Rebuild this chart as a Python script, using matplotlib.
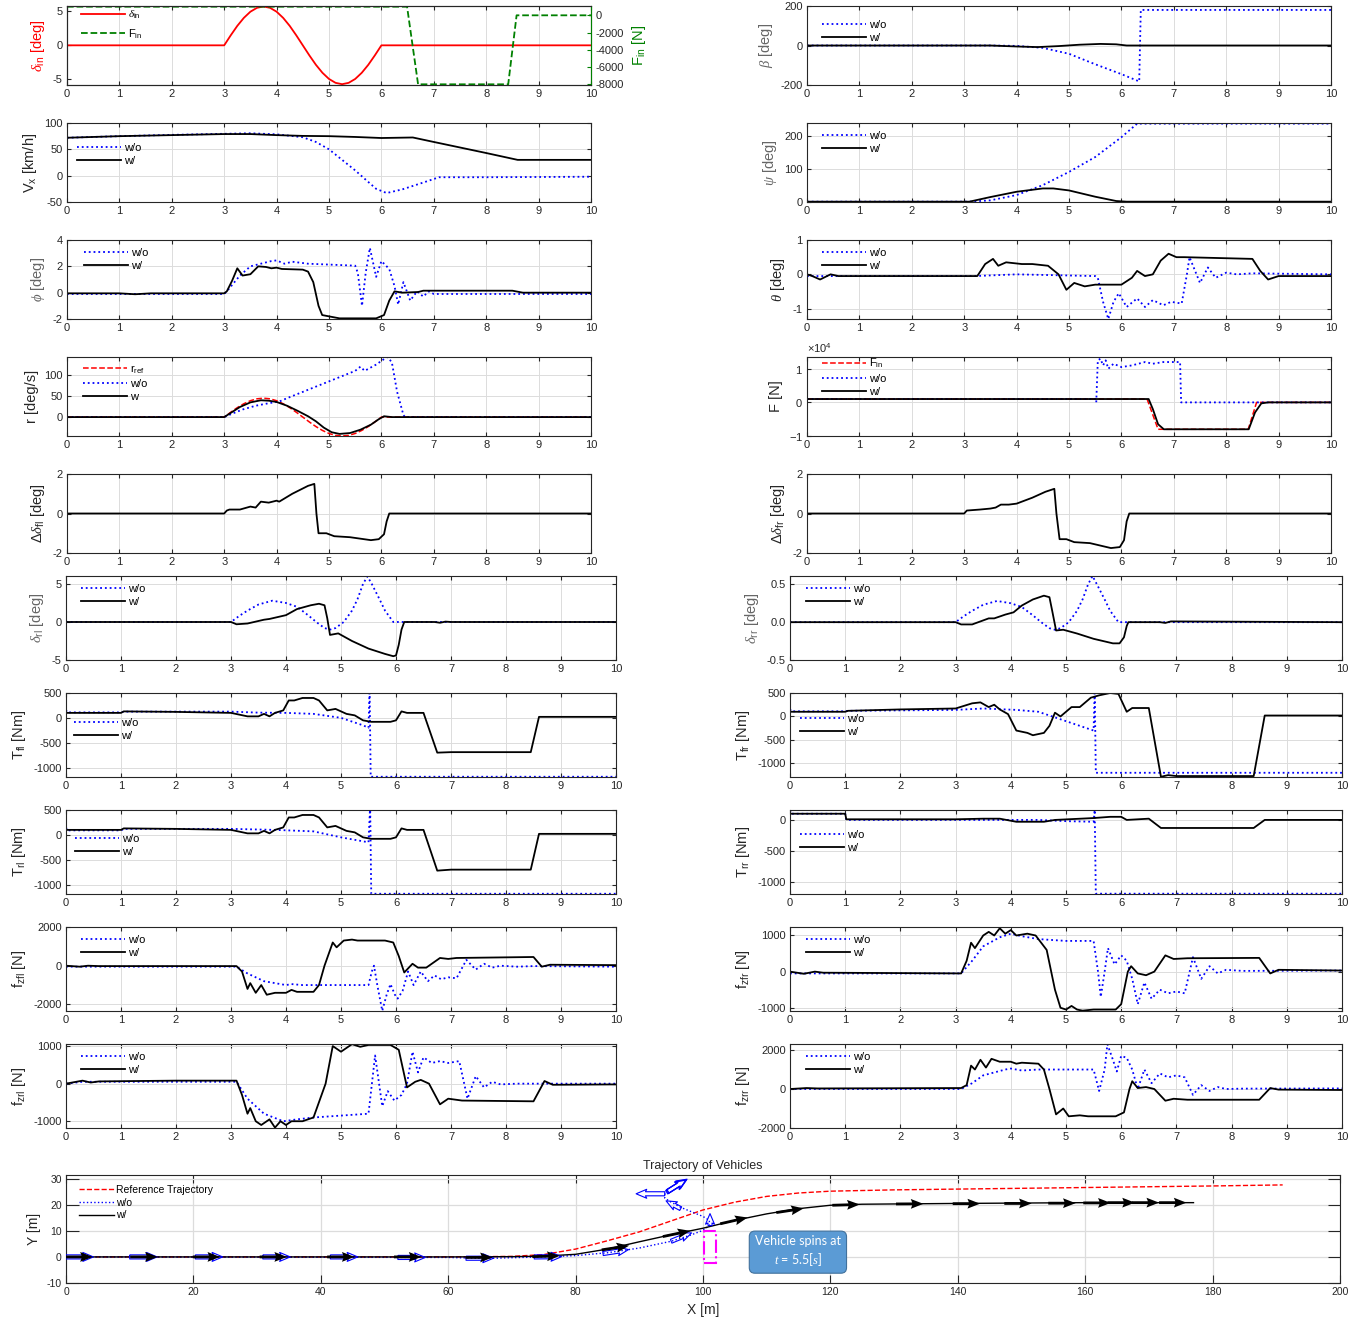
import matplotlib.pyplot as plt
from matplotlib.patches import Rectangle

plt.rcParams['font.family'] = ['Liberation Sans', 'DejaVu Sans']
plt.rcParams['mathtext.fontset'] = 'custom'
plt.rcParams['mathtext.rm'] = 'Liberation Sans'
plt.rcParams['mathtext.it'] = 'Liberation Serif:italic'
plt.rcParams['mathtext.bf'] = 'Liberation Sans:bold'
plt.rcParams['axes.unicode_minus'] = False
plt.rcParams['font.size'] = 8
plt.rcParams['axes.linewidth'] = 0.8
plt.rcParams['axes.edgecolor'] = '#262626'
plt.rcParams['xtick.color'] = '#262626'
plt.rcParams['ytick.color'] = '#262626'
plt.rcParams['axes.labelcolor'] = '#262626'

# ---- time histories, (t [s], value) ----
delta_in = [(0, 0), (3, 0), (3.125, 1.48), (3.25, 2.87), (3.375, 4.05), (3.5, 4.96), (3.625, 5.53),
            (3.75, 5.73), (3.875, 5.53), (4, 4.96), (4.125, 4.05), (4.25, 2.87), (4.375, 1.48),
            (4.5, 0), (4.625, -1.48), (4.75, -2.87), (4.875, -4.05), (5, -4.96), (5.125, -5.53),
            (5.25, -5.73), (5.375, -5.53), (5.5, -4.96), (5.625, -4.05), (5.75, -2.87),
            (5.875, -1.48), (6, 0), (10, 0)]
F_in = [(0, 1000), (6.49, 1000), (6.7, -8000), (8.42, -8000), (8.58, 0), (10, 0)]

beta_wo = [(0, 0), (3.5, 0), (4, -2), (4.5, -12), (5, -42), (5.5, -95), (6, -145), (6.34, -182),
           (6.37, 180), (10, 180)]
beta_w = [(0, 0), (3.5, 0), (4, -5), (4.4, -8), (4.8, -3), (5.2, 4), (5.6, 8), (5.9, 6), (6.1, 0), (10, 0)]

vx_wo = [(0, 72), (1, 75), (2, 77.5), (3, 79.5), (3.5, 80.5), (4, 78.5), (4.5, 73), (4.75, 64),
         (5, 50), (5.25, 30), (5.5, 10), (5.75, -12), (5.9, -25), (6.1, -33), (6.4, -26),
         (6.8, -13), (7.1, -3), (8, -3), (10, -2)]
vx_w = [(0, 72), (1, 75), (2, 77), (3, 79), (3.5, 79), (4, 77), (4.5, 75.5), (5, 75), (5.5, 73.5),
        (6, 71.5), (6.6, 72.5), (7, 64), (8, 43), (8.6, 30), (10, 30)]

psi_wo = [(0, 0), (3.1, 0), (3.5, 4), (4, 20), (4.5, 50), (5, 90), (5.5, 135), (6, 195),
          (6.3, 236), (10, 236)]
psi_w = [(0, 0), (3.1, 0), (3.5, 14), (4, 30), (4.5, 40), (4.7, 40), (5, 34), (5.5, 15),
         (5.9, 2), (6.1, 0), (10, 0)]

phi_wo = [(0, -0.1), (3, -0.1), (3.05, 0.1), (3.3, 1.3), (3.5, 2.0), (3.9, 2.4), (4.0, 2.45),
          (4.15, 2.2), (4.3, 2.35), (4.6, 2.2), (5.5, 2.05), (5.55, 1.5), (5.63, -1.0), (5.7, 1.5),
          (5.78, 3.4), (5.9, 1.2), (6.0, 2.4), (6.15, 1.8), (6.25, 0.5), (6.32, -0.9), (6.42, 0.8),
          (6.55, -0.6), (6.68, 0.1), (6.8, -0.3), (6.9, 0.1), (7.0, -0.1), (10, -0.1)]
phi_w = [(0, -0.05), (1, -0.05), (1.3, -0.12), (1.6, -0.05), (3, -0.05), (3.05, 0.1), (3.15, 0.9),
         (3.25, 1.85), (3.35, 1.3), (3.5, 1.4), (3.65, 2.0), (3.8, 1.95), (3.9, 1.85), (4.0, 1.9),
         (4.1, 1.8), (4.5, 1.75), (4.6, 1.6), (4.7, 0.8), (4.8, -1.0), (4.87, -1.7), (5.0, -1.8),
         (5.2, -1.95), (5.9, -1.95), (6.05, -1.7), (6.15, -0.6), (6.25, 0.1), (6.4, 0), (6.7, 0.05),
         (6.8, 0.15), (7, 0.15), (8.5, 0.15), (8.7, 0), (10, 0)]

theta_wo = [(0, -0.05), (3.2, -0.05), (4, 0), (5.5, -0.05), (5.55, -0.1), (5.65, -0.8), (5.75, -1.3),
            (5.85, -0.8), (5.95, -0.55), (6.1, -0.95), (6.3, -0.7), (6.45, -0.95), (6.6, -0.75),
            (6.8, -0.9), (6.95, -0.8), (7.15, -0.85), (7.25, 0), (7.3, 0.5), (7.5, -0.25),
            (7.65, 0.2), (7.8, -0.1), (8, 0.05), (8.2, 0), (8.5, 0.03), (10, 0.0)]
theta_w = [(0, 0), (0.1, -0.05), (0.25, -0.15), (0.45, 0), (0.6, -0.05), (3.25, -0.05), (3.4, 0.3),
           (3.55, 0.45), (3.65, 0.25), (3.8, 0.35), (4.1, 0.3), (4.3, 0.3), (4.6, 0.25), (4.8, 0.0),
           (4.95, -0.45), (5.1, -0.25), (5.3, -0.35), (5.5, -0.3), (6.0, -0.3), (6.2, -0.1),
           (6.3, 0.1), (6.45, -0.05), (6.6, 0), (6.75, 0.4), (6.9, 0.6), (7.05, 0.5), (7.2, 0.5),
           (8.5, 0.45), (8.65, 0.1), (8.8, -0.15), (9, -0.05), (10, -0.05)]

r_ref = [(0, 0), (3, 0), (3.125, 11.6), (3.25, 22.5), (3.375, 31.8), (3.5, 39), (3.625, 43.5),
         (3.75, 45), (3.875, 43.5), (4, 39), (4.125, 31.8), (4.25, 22.5), (4.375, 11.6), (4.5, 0),
         (4.625, -11.6), (4.75, -22.5), (4.875, -31.8), (5, -39), (5.125, -43.5), (5.25, -45),
         (5.375, -43.5), (5.5, -39), (5.625, -31.8), (5.75, -22.5), (5.875, -11.6), (6, 0), (10, 0)]
r_wo = [(0, 0), (3, 0), (3.15, 8), (3.35, 18), (3.6, 27), (3.85, 33), (4.05, 37), (4.2, 45),
        (4.5, 60), (5, 85), (5.5, 110), (5.6, 120), (5.68, 110), (5.9, 125), (6.05, 138),
        (6.12, 143), (6.2, 130), (6.3, 60), (6.42, 5), (6.45, 0), (10, 0)]
r_w = [(0, 0), (3, 0), (3.15, 12), (3.3, 24), (3.5, 35), (3.7, 40), (3.85, 39), (4.0, 36), (4.2, 27),
       (4.4, 15), (4.6, 2), (4.75, -10), (4.9, -25), (5.05, -36), (5.2, -40), (5.4, -38), (5.6, -30),
       (5.8, -18), (5.95, -5), (6.05, 2), (6.2, 0), (10, 0)]

F_wo = [(0, 1000), (5.5, 1000), (5.52, 0), (5.55, 12500), (5.6, 13000), (5.65, 11000), (5.7, 12500),
        (5.75, 10000), (5.85, 11500), (6.0, 10500), (6.2, 11000), (6.45, 12000), (6.6, 11500),
        (6.8, 12000), (7.12, 12000), (7.14, 0), (10, 0)]
F_w = [(0, 1000), (6.52, 1000), (6.6, -2000), (6.7, -6500), (6.81, -8000), (8.43, -8000),
       (8.55, -3000), (8.67, -300), (8.8, 0), (10, 0)]

ddelta_fl = [(0, 0), (3, 0), (3.05, 0.15), (3.1, 0.2), (3.3, 0.2), (3.5, 0.35), (3.6, 0.3), (3.7, 0.6),
             (3.85, 0.55), (4.0, 0.65), (4.05, 0.6), (4.3, 1.0), (4.6, 1.4), (4.72, 1.5), (4.76, 0),
             (4.8, -1.0), (4.95, -1.0), (5.1, -1.15), (5.4, -1.2), (5.8, -1.35), (5.95, -1.3),
             (6.05, -1.05), (6.1, -0.4), (6.15, 0), (10, 0)]
ddelta_fr = [(0, 0), (3, 0), (3.05, 0.15), (3.3, 0.2), (3.5, 0.25), (3.6, 0.3), (3.7, 0.45), (3.85, 0.45),
             (4.0, 0.5), (4.3, 0.8), (4.55, 1.1), (4.72, 1.25), (4.76, 0), (4.82, -1.3), (4.95, -1.3),
             (5.1, -1.45), (5.4, -1.5), (5.8, -1.75), (5.97, -1.7), (6.05, -1.35), (6.1, -0.4),
             (6.15, 0), (10, 0)]

delta_rl_wo = [(0, 0), (3, 0), (3.15, 0.8), (3.3, 1.5), (3.5, 2.3), (3.75, 2.8), (4.0, 2.5), (4.2, 2.0),
               (4.4, 0.9), (4.55, 0), (4.7, -0.8), (4.8, -1.0), (4.9, -0.8), (5.05, 0), (5.2, 1.5),
               (5.3, 3.0), (5.4, 5.0), (5.48, 6.0), (5.56, 5.0), (5.7, 3.0), (5.8, 1.5), (5.95, 0), (10, 0)]
delta_rl_w = [(0, 0), (3, 0), (3.1, -0.3), (3.3, -0.2), (3.6, 0.3), (3.7, 0.4), (4.0, 0.9), (4.2, 1.7),
              (4.45, 2.2), (4.6, 2.4), (4.7, 2.2), (4.75, 0.5), (4.8, -1.7), (4.95, -1.5), (5.2, -2.5),
              (5.5, -3.5), (5.8, -4.2), (5.95, -4.5), (6.0, -4.4), (6.05, -3.0), (6.1, -1.0),
              (6.15, 0), (6.7, 0), (6.8, -0.1), (6.9, 0.05), (7, 0), (10, 0)]
delta_rr_wo = [(0, 0), (3, 0), (3.15, 0.08), (3.3, 0.15), (3.5, 0.23), (3.75, 0.28), (4.0, 0.25),
               (4.2, 0.2), (4.4, 0.09), (4.55, 0), (4.7, -0.08), (4.8, -0.1), (4.9, -0.08), (5.05, 0),
               (5.2, 0.15), (5.3, 0.3), (5.4, 0.5), (5.48, 0.61), (5.56, 0.5), (5.7, 0.3), (5.8, 0.15),
               (5.95, 0), (10, 0)]
delta_rr_w = [(0, 0), (3, 0), (3.1, -0.03), (3.3, -0.03), (3.6, 0.05), (3.7, 0.05), (3.9, 0.1),
              (4.05, 0.13), (4.2, 0.22), (4.4, 0.3), (4.6, 0.35), (4.7, 0.33), (4.75, 0.15),
              (4.82, -0.11), (4.95, -0.1), (5.2, -0.15), (5.5, -0.22), (5.85, -0.28), (5.97, -0.28),
              (6.05, -0.2), (6.1, -0.05), (6.13, 0), (6.7, 0), (6.8, -0.01), (6.9, 0.01), (10, 0)]

T_fl_wo = [(0, 160), (0.02, 110), (1, 110), (1.05, 125), (3, 125), (3.5, 105), (4.0, 100), (4.5, 80),
           (5.0, 0), (5.4, -150), (5.5, -200), (5.52, 600), (5.54, -1185), (10, -1185)]
T_fl_w = [(0, 100), (1, 100), (1.05, 130), (2, 120), (3, 100), (3.3, 30), (3.5, 30), (3.6, 80),
          (3.7, 30), (3.8, 100), (3.95, 150), (4.05, 350), (4.15, 350), (4.3, 400), (4.5, 400),
          (4.6, 350), (4.75, 150), (4.9, 180), (5.1, 80), (5.25, 50), (5.4, -50), (5.55, -80),
          (5.9, -80), (6.0, -50), (6.1, 130), (6.2, 100), (6.5, 100), (6.75, -700), (7.0, -690),
          (8.45, -690), (8.6, 20), (10, 20)]
T_fr_wo = [(0, 160), (0.02, 110), (1, 110), (1.05, 120), (3, 140), (3.5, 170), (4.1, 140), (4.5, 100),
           (5, -100), (5.5, -300), (5.52, 600), (5.54, -1200), (10, -1200)]
T_fr_w = [(0, 100), (1, 100), (1.05, 120), (2, 150), (3, 170), (3.3, 280), (3.45, 300), (3.6, 200),
          (3.7, 250), (3.8, 150), (3.95, 50), (4.1, -300), (4.3, -350), (4.4, -400), (4.6, -350),
          (4.7, -200), (4.8, 80), (4.9, 0), (5.1, 200), (5.25, 200), (5.45, 400), (5.6, 450),
          (5.8, 500), (5.95, 480), (6.1, 100), (6.2, 180), (6.5, 180), (6.72, -1285), (6.85, -1250),
          (7.0, -1270), (8.4, -1270), (8.6, 20), (10, 20)]
T_rl_wo = [(0, 150), (0.02, 90), (1, 90), (1.05, 120), (3, 120), (3.8, 100), (4.5, 70), (5, -50),
           (5.5, -150), (5.53, 600), (5.55, -1185), (10, -1185)]
T_rl_w = [(0, 100), (1, 100), (1.05, 130), (2, 120), (3, 100), (3.3, 30), (3.5, 30), (3.6, 80),
          (3.7, 30), (3.8, 100), (3.95, 150), (4.05, 350), (4.15, 350), (4.3, 400), (4.5, 400),
          (4.6, 350), (4.75, 150), (4.9, 180), (5.1, 80), (5.25, 50), (5.4, -50), (5.55, -80),
          (5.9, -80), (6.0, -50), (6.1, 130), (6.2, 100), (6.5, 100), (6.75, -720), (7.0, -700),
          (8.45, -700), (8.6, 20), (10, 20)]
T_rr_wo = [(0, 160), (0.02, 100), (1, 100), (1.02, 0), (4.5, 0), (5, -20), (5.5, -30), (5.52, 160),
           (5.54, -1190), (10, -1190)]
T_rr_w = [(0, 100), (1, 100), (1.02, 10), (3, 10), (3.5, 20), (3.8, 20), (4.1, -30), (4.6, -30),
          (4.8, 0), (5.5, 30), (5.8, 50), (6.0, 50), (6.1, 0), (6.5, 20), (6.72, -130), (8.4, -130),
          (8.6, 0), (10, 0)]

fz_fl_wo = [(0, -50), (3.1, -50), (3.3, -400), (3.6, -800), (4.0, -1000), (4.1, -950), (4.3, -1000),
            (5.5, -1000), (5.56, -300), (5.6, 0), (5.66, -1000), (5.75, -2330), (5.83, -1500),
            (5.9, -950), (5.98, -1500), (6.03, -1700), (6.12, -1300), (6.22, -300), (6.32, -1000),
            (6.45, -300), (6.58, -800), (6.7, -500), (6.82, -700), (6.95, -600), (7.1, -650),
            (7.28, 300), (7.45, -200), (7.6, 100), (7.75, -100), (7.9, 0), (8.2, -50), (8.5, -20),
            (10, -50)]
fz_fl_w = [(0, 0), (0.25, -50), (0.4, 0), (0.6, -20), (3.1, -20), (3.2, -300), (3.3, -1200),
           (3.35, -900), (3.45, -1400), (3.55, -1000), (3.65, -1500), (3.8, -1400), (4.0, -1400),
           (4.1, -1250), (4.2, -1350), (4.5, -1350), (4.6, -1000), (4.7, 0), (4.85, 1200),
           (4.92, 950), (5.05, 1300), (5.2, 1350), (5.3, 1300), (5.8, 1300), (5.95, 1200),
           (6.05, 500), (6.15, -350), (6.3, 100), (6.4, -100), (6.55, -100), (6.8, 400), (6.95, 350),
           (7.1, 400), (8.5, 450), (8.65, -50), (8.8, 50), (10, 30)]
fz_fr_wo = [(0, -50), (3.1, -50), (3.3, 300), (3.5, 700), (3.8, 950), (4.0, 1050), (4.2, 980),
            (4.5, 900), (5.0, 850), (5.5, 850), (5.58, 0), (5.63, -700), (5.7, 0), (5.76, 650),
            (5.88, 200), (6.0, 450), (6.1, 300), (6.2, -200), (6.3, -900), (6.42, -300), (6.55, -750),
            (6.7, -500), (6.85, -600), (7.0, -550), (7.15, -600), (7.3, 400), (7.45, -200),
            (7.6, 150), (7.75, -50), (7.9, 50), (8.2, 20), (10, 30)]
fz_fr_w = [(0, 0), (0.25, -60), (0.45, 0), (0.6, -30), (3.1, -50), (3.2, 300), (3.28, 800),
           (3.35, 650), (3.5, 1000), (3.6, 1100), (3.7, 1000), (3.8, 1200), (3.9, 1050), (4.0, 1150),
           (4.1, 1000), (4.3, 1050), (4.45, 1000), (4.65, 600), (4.8, -500), (4.9, -1000),
           (5.0, -1050), (5.1, -950), (5.2, -1050), (5.3, -1080), (5.5, -1050), (5.9, -1050),
           (6.0, -900), (6.12, 0), (6.18, 150), (6.3, -50), (6.45, -100), (6.6, 0), (6.8, 450),
           (6.95, 350), (7.2, 370), (8.5, 380), (8.7, -50), (8.85, 50), (10, 30)]
fz_rl_wo = [(0, 0), (0.3, 50), (3.1, 50), (3.3, -400), (3.6, -800), (3.95, -1000), (4.2, -950),
            (4.5, -900), (5.0, -850), (5.5, -800), (5.62, 750), (5.75, -600), (5.85, -200),
            (5.97, -450), (6.1, -300), (6.2, 0), (6.3, 850), (6.4, 300), (6.5, 700), (6.65, 550),
            (6.8, 600), (6.95, 550), (7.15, 600), (7.3, -400), (7.45, 200), (7.6, -100), (7.75, 50),
            (7.9, -20), (8.2, 0), (10, 0)]
fz_rl_w = [(0, 0), (0.3, 80), (0.45, 30), (0.6, 60), (2, 80), (3.1, 80), (3.2, -300), (3.3, -800),
           (3.35, -650), (3.45, -1000), (3.55, -1100), (3.7, -950), (3.8, -1170), (3.9, -1000),
           (4.0, -1100), (4.1, -1000), (4.3, -1000), (4.5, -900), (4.72, 0), (4.85, 1000),
           (5.0, 850), (5.2, 1050), (5.35, 980), (5.5, 1030), (5.9, 1030), (6.05, 900), (6.2, -100),
           (6.35, 50), (6.45, 100), (6.6, 0), (6.8, -550), (6.95, -400), (7.2, -450), (8.5, -470),
           (8.7, 70), (8.85, -30), (10, -20)]
fz_rr_wo = [(0, 0), (3.1, 0), (3.3, 300), (3.5, 700), (3.9, 1000), (4.0, 1050), (4.2, 950),
            (4.5, 1000), (5.5, 1000), (5.6, -100), (5.7, 1000), (5.75, 2300), (5.85, 1500),
            (5.92, 900), (6.0, 1700), (6.1, 1600), (6.2, 1000), (6.3, 0), (6.42, 1000), (6.55, 300),
            (6.7, 800), (6.85, 600), (7.0, 700), (7.15, 600), (7.3, -300), (7.45, 200), (7.6, -100),
            (7.75, 100), (7.9, 0), (8.2, 20), (10, 30)]
fz_rr_w = [(0, 0), (0.3, 50), (0.5, 30), (3.1, 50), (3.2, 200), (3.28, 1200), (3.35, 1000),
           (3.45, 1500), (3.55, 1100), (3.65, 1550), (3.8, 1400), (4.0, 1400), (4.1, 1300),
           (4.2, 1350), (4.5, 1300), (4.6, 1000), (4.7, 0), (4.82, -1300), (4.95, -1000),
           (5.05, -1400), (5.25, -1350), (5.4, -1400), (5.9, -1400), (6.05, -1200), (6.15, 0),
           (6.2, 400), (6.3, 50), (6.45, 100), (6.6, 0), (6.8, -600), (6.95, -500), (7.2, -550),
           (8.5, -550), (8.7, 50), (8.85, -30), (10, -50)]

# ---- trajectories, (X [m], Y [m]) ----
traj_ref = [(0, 0), (60, 0), (70, 0.2), (75, 0.9), (80, 3), (85, 6.2), (90, 9.6), (95, 13.8),
            (100, 18), (105, 21), (110, 23.2), (115, 24.5), (120, 25.2), (130, 25.7), (140, 26),
            (160, 26.6), (180, 27.2), (191, 27.6)]
traj_wo = [(0, 0), (60, -0.2), (66, -0.6), (70, -0.3), (75, 0), (80, 0.5), (85, 1.6), (90, 3.4),
           (95, 6), (98, 8.3), (100, 10.2), (101, 12), (101, 14), (100, 15.5), (98, 17.5),
           (96.5, 19), (95, 21), (94, 22.5), (94, 24), (94.3, 25)]
traj_w = [(0, 0), (60, 0), (70, 0.1), (75, 0.3), (80, 1), (85, 3), (90, 5.8), (95, 8.5), (100, 11),
          (105, 14), (110, 16.5), (115, 18.5), (120, 19.8), (125, 20.2), (140, 20.5), (160, 20.8),
          (177, 20.8)]

# heading arrows every 0.5 s: tail X, tail Y, dX, dY
arrows_w = [(0, 0, 4.2, 0), (10.1, 0, 4.3, 0), (19.9, 0, 4.3, 0), (30.4, 0, 4.3, 0), (41, 0, 4.3, 0),
            (51.5, 0, 4.3, 0), (62.7, -0.2, 4.3, 0), (73.2, 0.1, 4.3, 0.3), (84.1, 2.7, 4.3, 1.6),
            (93.7, 7.8, 4.3, 2.2), (102.7, 12.7, 4.3, 2.4), (111.5, 17.0, 4.3, 1.6),
            (120.3, 19.8, 4.3, 0.3), (130.3, 20.3, 4.3, 0.05), (139.2, 20.4, 4.3, 0),
            (147.3, 20.5, 4.3, 0), (154.2, 20.6, 4.3, 0), (159.7, 20.7, 4.3, 0), (163.5, 20.8, 4.3, 0),
            (167.3, 20.8, 4.3, 0), (171.6, 20.8, 4.3, 0)]
arrows_wo = [(0, 0, 4.3, 0), (10, 0, 4.3, 0), (20.3, 0, 4.3, 0), (30.9, 0, 4.3, 0), (41.5, 0, 4.3, 0),
             (52.1, -0.2, 4.3, 0), (62.8, -0.5, 4.3, 0), (73.5, 0.0, 4.3, 0.1), (84.3, 1.3, 4.0, 1.5),
             (95, 6.0, 3.2, 3.2), (101.1, 12, 0, 4.6), (96.5, 18.5, -2.3, 3.0), (94, 24.2, -4.5, 0),
             (94.3, 24.8, 3.0, 4.6), (94.4, 25.0, 3.0, 4.6), (94.5, 25.2, 3.0, 4.6)]

FIG_W, FIG_H = 1372, 1321
fig = plt.figure(figsize=(FIG_W / 100, FIG_H / 100), dpi=100)

WO = dict(color='b', linestyle=':', linewidth=1.3)
W = dict(color='k', linestyle='-', linewidth=1.3)
REF = dict(color='r', linestyle='--', linewidth=1.1)
GREY = '#262626'


def add_box(x0, x1, y0, y1):
    return fig.add_axes([x0 / FIG_W, 1 - y1 / FIG_H, (x1 - x0) / FIG_W, (y1 - y0) / FIG_H])


def panel(box, ylim, yticks, ylabel, lcolor=GREY):
    ax = add_box(*box)
    ax.set_xlim(0, 10)
    ax.set_xticks(range(11))
    ax.set_ylim(*ylim)
    ax.set_yticks(yticks)
    ax.grid(True, color='#dcdcdc', linewidth=0.7)
    ax.set_axisbelow(True)
    ax.tick_params(direction='in', top=True, right=True, length=3, labelsize=8, pad=3)
    ax.set_ylabel(ylabel, fontsize=10.5, color=lcolor)
    return ax


def curve(ax, pts, style, label=None):
    t, v = zip(*pts)
    ax.plot(t, v, label=label, **style)


def legend(ax, box, dx, dy, handles=None, spacing=0.3):
    w, h = box[1] - box[0], box[3] - box[2]
    kw = dict(loc='upper left', bbox_to_anchor=(dx / w, 1 - dy / h), frameon=False, borderpad=0,
              borderaxespad=0, handlelength=4.0, handletextpad=0.2, labelspacing=spacing, fontsize=8)
    if handles:
        ax.legend(handles=handles, **kw)
    else:
        ax.legend(**kw)


L1, R1 = (67, 591), (807, 1331)
L2, R2 = (66, 616), (790, 1342)
ROWS = [(6, 85), (123, 202), (240, 319), (357, 436), (474, 553),
        (576, 660), (693, 777), (810, 894), (927, 1011), (1044, 1128)]


def bx(col, row):
    return col + ROWS[row]


# row 1: inputs
b = bx(L1, 0)
ax = panel(b, (-5.85, 5.8), [-5, 0, 5], r'$\delta_{\rm in}$ [deg]', 'r')
ax.tick_params(right=False)
ax.grid(False)
ax.grid(True, axis='x', color='#dcdcdc', linewidth=0.7)
t, v = zip(*delta_in)
h1, = ax.plot(t, v, color='r', linewidth=1.3, label=r'$\delta_{\rm in}$')
ax2 = ax.twinx()
t, v = zip(*F_in)
h2, = ax2.plot(t, v, color=(0, 0.5, 0), linestyle='--', linewidth=1.3, label=r'F$_{\rm in}$')
ax2.set_ylim(-8080, 1080)
ax2.set_yticks([-8000, -6000, -4000, -2000, 0])
ax2.spines['right'].set_color((0, 0.5, 0))
ax2.tick_params(axis='y', direction='in', length=3, labelsize=8, color=(0, 0.5, 0), labelcolor=GREY)
ax2.set_ylabel(r'F$_{\rm in}$ [N]', fontsize=10.5, color=(0, 0.5, 0))
legend(ax2, b, 14, 3, handles=[h1, h2], spacing=0.5)

b = bx(R1, 0)
ax = panel(b, (-200, 200), [-200, 0, 200], r'$\beta$ [deg]', '#666666')
curve(ax, beta_wo, WO, 'w/o')
curve(ax, beta_w, W, 'w/')
legend(ax, b, 15, 14)

# row 2
b = bx(L1, 1)
ax = panel(b, (-50, 100), [-50, 0, 50, 100], r'V$_{\rm x}$ [km/h]')
curve(ax, vx_wo, WO, 'w/o')
curve(ax, vx_w, W, 'w/')
legend(ax, b, 10, 20)

b = bx(R1, 1)
ax = panel(b, (-1, 238), [0, 100, 200], r'$\psi$ [deg]', '#666666')
curve(ax, psi_wo, WO, 'w/o')
curve(ax, psi_w, W, 'w/')
legend(ax, b, 15, 8)

# row 3
b = bx(L1, 2)
ax = panel(b, (-2, 4), [-2, 0, 2, 4], r'$\phi$ [deg]', '#666666')
curve(ax, phi_wo, WO, 'w/o')
curve(ax, phi_w, W, 'w/')
legend(ax, b, 17, 8)

b = bx(R1, 2)
ax = panel(b, (-1.3, 1), [-1, 0, 1], r'$\theta$ [deg]')
curve(ax, theta_wo, WO, 'w/o')
curve(ax, theta_w, W, 'w/')
legend(ax, b, 15, 8)

# row 4
b = bx(L1, 3)
ax = panel(b, (-45, 143), [0, 50, 100], 'r [deg/s]')
curve(ax, r_ref, REF, r'r$_{\rm ref}$')
curve(ax, r_wo, WO, 'w/o')
curve(ax, r_w, W, 'w')
legend(ax, b, 16, 6)

b = bx(R1, 3)
ax = panel(b, (-10000, 13500), [-10000, 0, 10000], 'F [N]')
ax.ticklabel_format(axis='y', style='sci', scilimits=(0, 0), useMathText=True)
ax.yaxis.get_offset_text().set_fontsize(8)
curve(ax, F_in, REF, r'F$_{\rm in}$')
curve(ax, F_wo, WO, 'w/o')
curve(ax, F_w, W, 'w/')
legend(ax, b, 15, 0)

# row 5
b = bx(L1, 4)
ax = panel(b, (-2, 2), [-2, 0, 2], r'$\Delta\delta_{\rm fl}$ [deg]')
curve(ax, ddelta_fl, W)

b = bx(R1, 4)
ax = panel(b, (-2, 2), [-2, 0, 2], r'$\Delta\delta_{\rm fr}$ [deg]')
curve(ax, ddelta_fr, W)

# row 6
b = bx(L2, 5)
ax = panel(b, (-5, 6.05), [-5, 0, 5], r'$\delta_{\rm rl}$ [deg]', '#666666')
curve(ax, delta_rl_wo, WO, 'w/o')
curve(ax, delta_rl_w, W, 'w/')
legend(ax, b, 15, 8)

b = bx(R2, 5)
ax = panel(b, (-0.5, 0.61), [-0.5, 0, 0.5], r'$\delta_{\rm rr}$ [deg]', '#666666')
curve(ax, delta_rr_wo, WO, 'w/o')
curve(ax, delta_rr_w, W, 'w/')
legend(ax, b, 16, 8)

# rows 7-8: wheel torques
b = bx(L2, 6)
ax = panel(b, (-1190, 500), [-1000, -500, 0, 500], r'T$_{\rm fl}$ [Nm]')
curve(ax, T_fl_wo, WO, 'w/o')
curve(ax, T_fl_w, W, 'w/')
legend(ax, b, 8, 25)

b = bx(R2, 6)
ax = panel(b, (-1290, 500), [-1000, -500, 0, 500], r'T$_{\rm fr}$ [Nm]')
curve(ax, T_fr_wo, WO, 'w/o')
curve(ax, T_fr_w, W, 'w/')
legend(ax, b, 10, 21)

b = bx(L2, 7)
ax = panel(b, (-1190, 500), [-1000, -500, 0, 500], r'T$_{\rm rl}$ [Nm]')
curve(ax, T_rl_wo, WO, 'w/o')
curve(ax, T_rl_w, W, 'w/')
legend(ax, b, 9, 24)

b = bx(R2, 7)
ax = panel(b, (-1195, 160), [-1000, -500, 0], r'T$_{\rm rr}$ [Nm]')
curve(ax, T_rr_wo, WO, 'w/o')
curve(ax, T_rr_w, W, 'w/')
legend(ax, b, 10, 20)

# rows 9-10: vertical tyre loads
b = bx(L2, 8)
ax = panel(b, (-2340, 2000), [-2000, 0, 2000], r'f$_{\rm zfl}$ [N]')
curve(ax, fz_fl_wo, WO, 'w/o')
curve(ax, fz_fl_w, W, 'w/')
legend(ax, b, 15, 8)

b = bx(R2, 8)
ax = panel(b, (-1090, 1235), [-1000, 0, 1000], r'f$_{\rm zfr}$ [N]')
curve(ax, fz_fr_wo, WO, 'w/o')
curve(ax, fz_fr_w, W, 'w/')
legend(ax, b, 16, 8)

b = bx(L2, 9)
ax = panel(b, (-1180, 1055), [-1000, 0, 1000], r'f$_{\rm zrl}$ [N]')
curve(ax, fz_rl_wo, WO, 'w/o')
curve(ax, fz_rl_w, W, 'w/')
legend(ax, b, 15, 8)

b = bx(R2, 9)
ax = panel(b, (-2000, 2310), [-2000, 0, 2000], r'f$_{\rm zrr}$ [N]')
curve(ax, fz_rr_wo, WO, 'w/o')
curve(ax, fz_rr_w, W, 'w/')
legend(ax, b, 16, 8)

# trajectory
b = (66, 1340, 1175, 1283)
ax = add_box(*b)
ax.set_xlim(0, 200)
ax.set_ylim(-10, 31.4)
ax.set_xticks(range(0, 201, 20))
ax.set_yticks([-10, 0, 10, 20, 30])
ax.grid(True, color='#dcdcdc', linewidth=0.9)
ax.set_axisbelow(True)
ax.tick_params(direction='in', top=True, right=True, labelsize=7.5, pad=3)
ax.tick_params(axis='x', length=6)
ax.tick_params(axis='y', length=9)
x, y = zip(*traj_ref)
ax.plot(x, y, color='r', linestyle='--', linewidth=1.0, label='Reference Trajectory')
x, y = zip(*traj_wo)
ax.plot(x, y, color='b', linestyle=':', linewidth=1.0, label='w/o')
x, y = zip(*traj_w)
ax.plot(x, y, color='k', linewidth=1.0, label='w/')
x, y, u, v = zip(*arrows_wo)
ax.quiver(x, y, u, v, angles='xy', scale_units='xy', scale=1, facecolor='none', edgecolor='b',
          linewidth=0.8, width=0.0032, headwidth=2.2, headlength=2.6, headaxislength=2.3, zorder=3)
x, y, u, v = zip(*arrows_w)
ax.quiver(x, y, u, v, angles='xy', scale_units='xy', scale=1, color='k',
          width=0.0022, headwidth=3.5, headlength=4.5, headaxislength=4, zorder=4)
ax.add_patch(Rectangle((100.2, -2.4), 1.8, 12.5, fill=False, edgecolor='magenta',
                       linestyle='-.', linewidth=1.5, zorder=5))
ax.text(114.9, 2.2, 'Vehicle spins at\n$t$ = 5.5[$s$]', ha='center', va='center', color='white',
        fontsize=9, family=['Lato', 'DejaVu Sans'], linespacing=1.3, zorder=6,
        bbox=dict(boxstyle='round,pad=0.45', facecolor='#5B9BD5', edgecolor='#41719C', linewidth=0.8))
ax.set_title('Trajectory of Vehicles', fontsize=9, pad=4, color=GREY)
ax.set_xlabel('X [m]', fontsize=10)
ax.set_ylabel('Y [m]', fontsize=10)
ax.legend(loc='upper left', bbox_to_anchor=(13 / 1274, 1 - 10 / 108), frameon=False, borderpad=0,
          borderaxespad=0, handlelength=3.4, handletextpad=0.2, labelspacing=0.25, fontsize=7.5)

fig.savefig('out.png', dpi=100)
